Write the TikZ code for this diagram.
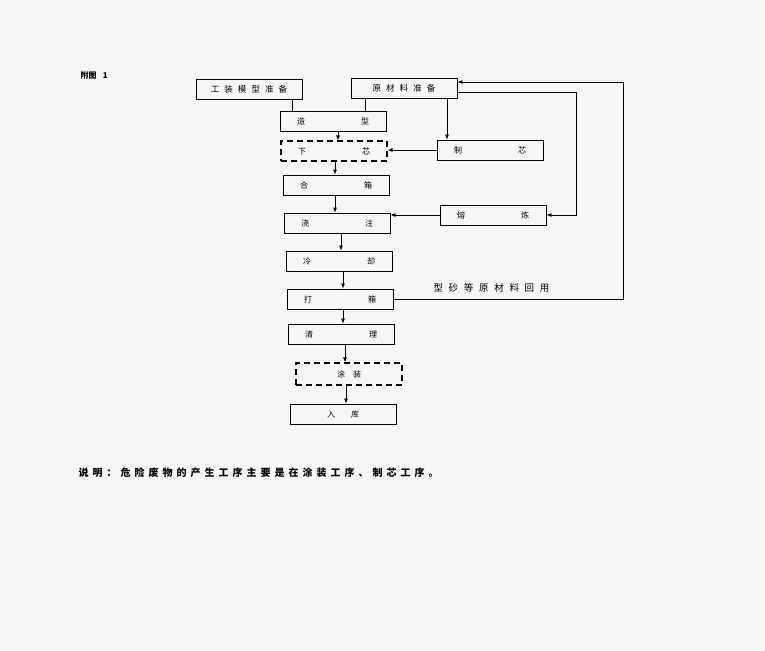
\documentclass[tikz,border=0pt]{standalone}
\usepackage{fontspec}
\setmainfont{Noto Sans CJK SC}
\newfontfamily\spacedcjk[LetterSpace=60]{Noto Sans CJK SC}
\usetikzlibrary{arrows.meta}
\begin{document}
\begin{tikzpicture}[x=1pt,y=-1pt,
  box/.style={draw,line width=0.8pt,minimum width=106pt,minimum height=20pt,inner sep=0pt,font=\fontsize{8}{9}\selectfont},
  dbox/.style={box,dashed,line width=1.2pt,dash pattern=on 6pt off 4pt},
  flow/.style={line width=0.8pt,-{Latex[length=5pt,width=4pt]}},
  plain/.style={line width=0.7pt}]
\useasboundingbox (0,0) rectangle (765,650);
\fill[white!94!gray] (0,0) rectangle (765,650);
\node[font=\fontsize{8}{9}\selectfont\bfseries,anchor=west] (title) at (77,75) {附图\hspace{0.8em}1};
\node[box,font=\fontsize{8.5}{9}\selectfont\spacedcjk] (gz) at (249,89) {工装模型准备};
\node[box,font=\fontsize{8.5}{9}\selectfont\spacedcjk] (ycl) at (404,88) {原材料准备};
\node[box] (zx) at (333,121) {造\hspace{7em}型};
\node[dbox] (xx) at (334,151) {下\hspace{7em}芯};
\node[box] (zhx) at (490,150) {制\hspace{7em}芯};
\node[box] (hx) at (336,185) {合\hspace{7em}箱};
\node[box] (jz) at (337,223) {浇\hspace{7em}注};
\node[box] (rl) at (493,215) {熔\hspace{7em}炼};
\node[box] (lq) at (339,261) {冷\hspace{7em}却};
\node[box] (dx) at (340,299) {打\hspace{7em}箱};
\node[box] (ql) at (341,334) {清\hspace{7em}理};
\node[dbox,minimum height=22pt] (tz) at (349,374) {涂\hspace{1em}装};
\node[box] (rk) at (343,414) {入\hspace{2em}库};
\node[font=\fontsize{9.5}{10}\selectfont\spacedcjk,anchor=south west] (hy) at (430,296) {型砂等原材料回用};
\node[font=\fontsize{10}{11}\selectfont\bfseries\addfontfeature{LetterSpace=40},anchor=west] (note) at (75,473) {说明：危险废物的产生工序主要是在涂装工序、制芯工序。};
% connectors
\draw[plain] (gz.south -| 292,0) -- (zx.north -| 292,0);
\draw[plain] (ycl.south -| 365,0) -- (zx.north -| 365,0);
\draw[flow] (zx.south -| 338,0) -- (xx.north -| 338,0);
\draw[flow] (ycl.south -| 447,0) -- (zhx.north -| 447,0);
\draw[flow] (zhx.west) -- (xx.east |- zhx.west);
\draw[flow] (xx.south -| 335,0) -- (hx.north -| 335,0);
\draw[flow] (hx.south -| 335,0) -- (jz.north -| 335,0);
\draw[flow] (rl.west) -- (jz.east |- rl.west);
\draw[flow] (jz.south -| 341,0) -- (lq.north -| 341,0);
\draw[flow] (lq.south -| 343,0) -- (dx.north -| 343,0);
\draw[flow] (dx.south -| 343,0) -- (ql.north -| 343,0);
\draw[flow] (ql.south -| 345,0) -- (tz.north -| 345,0);
\draw[flow] (tz.south -| 346,0) -- (rk.north -| 346,0);
\coordinate (c1) at (576,92);
\draw[flow] (ycl.east |- c1) -- (c1) -- (c1 |- rl.east) -- (rl.east);
\coordinate (c2) at (623,82);
\draw[flow] (dx.east) -- (c2 |- dx.east) -- (c2) -- (ycl.east |- c2);
\end{tikzpicture}
\end{document}
